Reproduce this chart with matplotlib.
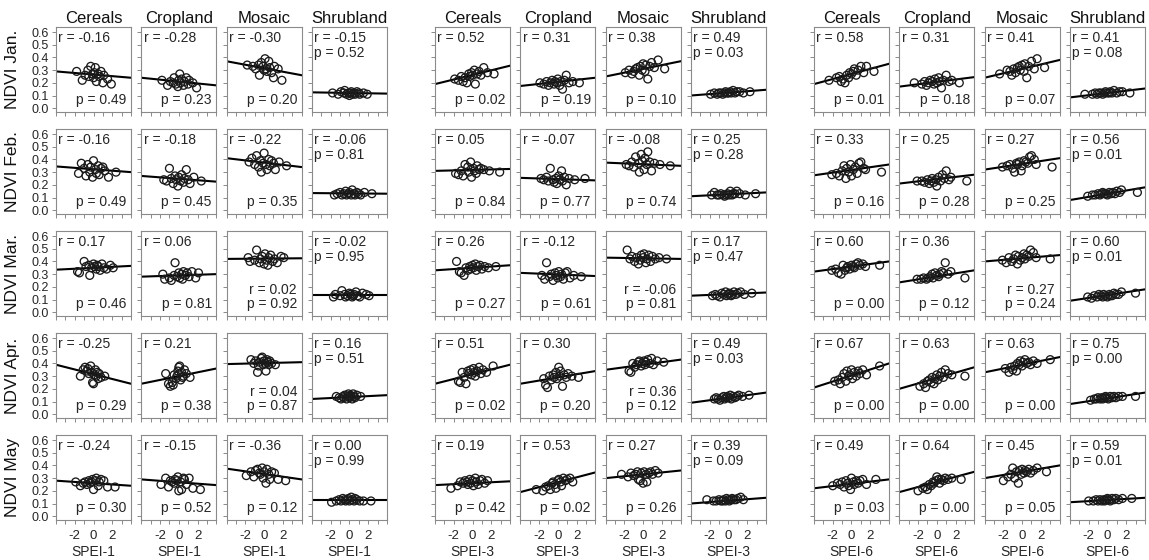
import numpy as np
import matplotlib
matplotlib.use("Agg")
import matplotlib.pyplot as plt

plt.rcParams['font.family'] = ['Liberation Sans', 'DejaVu Sans']
plt.rcParams['axes.unicode_minus'] = False

covers = ['Cereals', 'Cropland', 'Mosaic', 'Shrubland']
months = ['Jan.', 'Feb.', 'Mar.', 'Apr.', 'May']
scales = ['SPEI-1', 'SPEI-3', 'SPEI-6']

# SPEI value of each year, per month and time scale
spei1_jan = [-1.8, -1.2, -0.9, -0.6, -0.5, -0.3, -0.1, 0.0, 0.1, 0.2, 0.3, 0.5, 0.6, 0.8, 1.0, 1.1, 1.5, 1.9]
spei3_jan = [-1.9, -1.5, -1.2, -1.0, -0.8, -0.6, -0.4, -0.3, -0.1, 0.0, 0.2, 0.3, 0.5, 0.7, 0.9, 1.2, 1.6, 2.3]
spei6_jan = [-2.4, -1.6, -1.3, -1.1, -0.9, -0.7, -0.5, -0.3, -0.2, 0.0, 0.2, 0.3, 0.5, 0.7, 1.0, 1.3, 1.6, 2.4]
spei1_feb = [-1.6, -1.3, -1.0, -0.8, -0.6, -0.4, -0.3, -0.1, 0.0, 0.2, 0.3, 0.5, 0.6, 0.8, 1.0, 1.2, 1.6, 2.4]
spei3_feb = [-1.8, -1.5, -1.2, -1.0, -0.8, -0.5, -0.4, -0.2, -0.1, 0.1, 0.2, 0.4, 0.5, 0.7, 0.9, 1.2, 1.8, 2.9]
spei6_feb = [-2.1, -1.6, -1.3, -1.0, -0.8, -0.6, -0.5, -0.3, -0.1, 0.0, 0.2, 0.4, 0.6, 0.8, 1.0, 1.3, 1.5, 3.2]
spei1_mar = [-1.7, -1.5, -1.0, -0.8, -0.5, -0.4, -0.2, 0.0, 0.1, 0.3, 0.4, 0.5, 0.7, 0.9, 1.1, 1.4, 1.8, 2.1]
spei3_mar = [-1.7, -1.4, -1.2, -0.9, -0.7, -0.5, -0.3, -0.2, 0.0, 0.1, 0.3, 0.4, 0.6, 0.8, 1.0, 1.3, 1.7, 2.5]
spei6_mar = [-2.1, -1.7, -1.4, -1.1, -0.9, -0.7, -0.5, -0.4, -0.2, 0.0, 0.2, 0.3, 0.5, 0.7, 0.9, 1.2, 1.5, 3.0]
spei1_apr = [-1.4, -1.1, -0.9, -0.7, -0.6, -0.5, -0.3, -0.2, -0.1, 0.0, 0.1, 0.2, 0.3, 0.4, 0.5, 0.6, 0.8, 1.2]
spei3_apr = [-1.5, -1.3, -1.1, -0.9, -0.7, -0.5, -0.4, -0.2, -0.1, 0.1, 0.2, 0.3, 0.5, 0.7, 0.9, 1.1, 1.5, 2.2]
spei6_apr = [-1.8, -1.4, -1.2, -1.0, -0.8, -0.6, -0.5, -0.3, -0.2, 0.0, 0.1, 0.3, 0.5, 0.7, 0.9, 1.2, 1.6, 3.0]
spei1_may = [-1.9, -1.4, -1.1, -0.9, -0.7, -0.5, -0.4, -0.2, -0.1, 0.0, 0.2, 0.3, 0.5, 0.6, 0.8, 1.1, 1.5, 2.3]
spei3_may = [-2.3, -1.6, -1.3, -1.0, -0.8, -0.6, -0.5, -0.3, -0.2, 0.0, 0.1, 0.3, 0.4, 0.6, 0.8, 1.0, 1.3, 1.6]
spei6_may = [-2.0, -1.5, -1.2, -1.0, -0.8, -0.6, -0.4, -0.3, -0.1, 0.0, 0.2, 0.3, 0.5, 0.7, 0.9, 1.2, 1.6, 2.6]

# NDVI (x100), 12 panels per month: 4 covers for SPEI-1, SPEI-3, SPEI-6
ndvi_jan = [
    [29, 22, 26, 30, 25, 33, 27, 24, 28, 32, 21, 27, 25, 29, 20, 26, 23, 19],
    [22, 18, 21, 20, 24, 19, 17, 22, 27, 20, 23, 18, 21, 24, 19, 22, 20, 16],
    [34, 33, 31, 34, 26, 36, 33, 30, 39, 31, 29, 37, 32, 28, 24, 33, 31, 22],
    [12, 11, 13, 12, 14, 11, 12, 10, 12, 13, 11, 12, 11, 13, 12, 11, 12, 11],
    [23, 22, 25, 21, 24, 20, 27, 25, 28, 26, 30, 19, 27, 29, 26, 32, 28, 27],
    [20, 19, 21, 18, 20, 22, 19, 21, 20, 23, 18, 21, 15, 22, 26, 20, 21, 20],
    [28, 30, 27, 29, 31, 32, 26, 33, 30, 35, 29, 34, 23, 33, 36, 32, 38, 31],
    [11, 12, 11, 12, 12, 11, 12, 13, 12, 12, 13, 12, 14, 12, 13, 13, 12, 13],
    [22, 24, 25, 21, 23, 20, 26, 24, 28, 27, 29, 31, 26, 30, 33, 28, 33, 29],
    [20, 19, 21, 18, 20, 22, 21, 19, 23, 20, 24, 21, 16, 22, 26, 21, 22, 20],
    [27, 30, 29, 26, 31, 28, 32, 33, 30, 34, 29, 35, 24, 33, 37, 31, 39, 32],
    [11, 11, 12, 11, 12, 12, 11, 12, 13, 12, 12, 13, 12, 14, 12, 13, 13, 12],
]
ndvi_feb = [
    [29, 37, 33, 27, 36, 30, 34, 26, 39, 32, 29, 35, 28, 33, 34, 31, 26, 30],
    [24, 23, 33, 25, 21, 27, 24, 19, 26, 23, 28, 22, 25, 32, 24, 21, 26, 23],
    [38, 41, 36, 43, 34, 39, 30, 37, 45, 36, 32, 40, 35, 39, 37, 32, 38, 35],
    [12, 13, 14, 12, 13, 15, 12, 13, 14, 12, 16, 13, 12, 14, 13, 12, 14, 13],
    [29, 28, 31, 27, 36, 34, 30, 38, 26, 33, 31, 29, 35, 32, 33, 32, 31, 30],
    [25, 24, 26, 23, 33, 24, 22, 25, 21, 27, 24, 31, 23, 26, 20, 25, 24, 25],
    [36, 35, 38, 34, 42, 37, 30, 44, 39, 32, 41, 36, 46, 38, 31, 37, 36, 35],
    [12, 14, 12, 12, 13, 12, 11, 12, 13, 12, 15, 12, 13, 13, 15, 13, 12, 13],
    [28, 29, 27, 31, 35, 25, 33, 30, 36, 27, 32, 34, 29, 37, 38, 33, 32, 30],
    [23, 23, 22, 24, 21, 23, 25, 22, 24, 19, 26, 23, 28, 25, 31, 24, 26, 23],
    [34, 35, 36, 33, 30, 37, 36, 38, 31, 35, 39, 38, 37, 42, 43, 40, 36, 34],
    [11, 12, 12, 13, 12, 13, 14, 13, 13, 12, 14, 13, 14, 13, 15, 14, 16, 14],
]
ndvi_mar = [
    [32, 31, 40, 36, 37, 29, 35, 38, 36, 34, 37, 36, 33, 38, 35, 34, 37, 35],
    [30, 26, 27, 25, 29, 39, 28, 31, 27, 30, 26, 32, 29, 31, 28, 32, 27, 31],
    [43, 40, 41, 49, 39, 42, 44, 38, 46, 41, 37, 43, 45, 40, 42, 39, 44, 43],
    [12, 14, 13, 17, 14, 12, 13, 15, 14, 12, 13, 14, 16, 13, 12, 15, 14, 13],
    [40, 32, 31, 29, 35, 33, 36, 34, 37, 35, 38, 33, 36, 37, 34, 36, 35, 36],
    [29, 26, 39, 28, 30, 25, 31, 29, 27, 32, 28, 30, 26, 31, 32, 27, 29, 28],
    [49, 42, 44, 40, 43, 38, 41, 45, 43, 46, 39, 42, 45, 40, 44, 42, 43, 42],
    [13, 14, 13, 12, 15, 14, 16, 13, 14, 15, 13, 14, 16, 14, 15, 16, 14, 15],
    [33, 34, 31, 30, 37, 33, 35, 36, 34, 37, 36, 35, 38, 39, 37, 38, 36, 37],
    [26, 26, 27, 26, 27, 28, 30, 27, 31, 29, 28, 30, 32, 31, 39, 30, 32, 27],
    [41, 39, 43, 40, 42, 45, 38, 44, 41, 43, 46, 42, 45, 44, 49, 47, 43, 42],
    [12, 11, 13, 12, 14, 13, 12, 14, 13, 12, 14, 13, 13, 15, 14, 14, 16, 15],
]
ndvi_apr = [
    [30, 35, 37, 34, 36, 32, 38, 33, 25, 24, 31, 35, 30, 33, 28, 32, 29, 30],
    [32, 24, 22, 25, 23, 31, 28, 30, 34, 37, 38, 27, 33, 29, 30, 35, 32, 29],
    [43, 40, 42, 33, 38, 41, 44, 45, 39, 42, 40, 34, 43, 41, 39, 42, 40, 39],
    [14, 13, 12, 14, 13, 15, 12, 14, 16, 13, 15, 14, 12, 16, 14, 13, 15, 14],
    [26, 25, 33, 29, 24, 34, 32, 35, 31, 36, 33, 30, 34, 37, 32, 35, 33, 38],
    [28, 23, 21, 30, 27, 31, 29, 33, 28, 37, 30, 34, 22, 31, 29, 32, 30, 29],
    [34, 33, 40, 37, 39, 41, 42, 38, 40, 42, 39, 41, 43, 40, 44, 39, 42, 41],
    [12, 13, 12, 11, 13, 14, 12, 13, 14, 13, 15, 12, 14, 13, 14, 15, 14, 15],
    [26, 27, 24, 29, 32, 26, 34, 30, 31, 35, 28, 33, 30, 34, 32, 35, 31, 38],
    [22, 24, 21, 26, 27, 25, 29, 24, 28, 31, 27, 30, 33, 29, 35, 32, 31, 30],
    [36, 33, 37, 35, 38, 34, 40, 39, 42, 38, 41, 43, 40, 41, 39, 42, 40, 43],
    [11, 12, 12, 13, 12, 13, 12, 13, 14, 13, 12, 14, 13, 14, 13, 14, 14, 14],
]
ndvi_may = [
    [27, 24, 26, 27, 25, 28, 26, 27, 29, 21, 28, 30, 24, 27, 29, 28, 23, 23],
    [25, 30, 23, 28, 27, 26, 29, 28, 31, 20, 27, 21, 30, 29, 25, 30, 22, 21],
    [32, 35, 31, 36, 37, 34, 33, 38, 30, 35, 26, 37, 33, 29, 35, 34, 29, 28],
    [11, 12, 13, 12, 14, 13, 12, 13, 14, 12, 15, 13, 12, 14, 13, 12, 12, 12],
    [22, 24, 27, 26, 28, 27, 25, 29, 26, 28, 24, 30, 27, 25, 28, 29, 26, 28],
    [21, 20, 23, 24, 21, 26, 27, 25, 22, 28, 29, 27, 24, 30, 28, 29, 30, 27],
    [33, 31, 34, 32, 33, 35, 29, 28, 34, 26, 35, 33, 27, 34, 35, 33, 36, 34],
    [13, 12, 12, 13, 12, 12, 13, 12, 14, 13, 12, 13, 14, 13, 13, 14, 15, 13],
    [24, 26, 25, 27, 23, 28, 26, 24, 21, 30, 27, 25, 28, 26, 28, 29, 25, 29],
    [20, 22, 23, 21, 25, 24, 27, 26, 28, 31, 29, 26, 29, 28, 30, 29, 30, 29],
    [28, 31, 33, 38, 30, 35, 26, 36, 33, 37, 34, 36, 35, 37, 34, 36, 38, 35],
    [12, 12, 13, 12, 13, 12, 13, 12, 13, 14, 13, 12, 14, 13, 14, 13, 14, 14],
]

# fitted NDVI at SPEI = -4 and SPEI = 4
fit_lo_jan = [0.29, 0.24, 0.37, 0.125, 0.19, 0.175, 0.25, 0.10, 0.19, 0.17, 0.24, 0.085]
fit_hi_jan = [0.24, 0.18, 0.26, 0.115, 0.335, 0.24, 0.37, 0.145, 0.35, 0.245, 0.38, 0.155]
fit_lo_feb = [0.345, 0.27, 0.41, 0.135, 0.31, 0.255, 0.375, 0.11, 0.275, 0.21, 0.32, 0.08]
fit_hi_feb = [0.30, 0.225, 0.34, 0.13, 0.325, 0.235, 0.35, 0.14, 0.36, 0.28, 0.41, 0.18]
fit_lo_mar = [0.335, 0.28, 0.42, 0.135, 0.33, 0.31, 0.43, 0.13, 0.32, 0.235, 0.40, 0.09]
fit_hi_mar = [0.365, 0.30, 0.425, 0.135, 0.37, 0.285, 0.42, 0.155, 0.40, 0.33, 0.45, 0.18]
fit_lo_apr = [0.39, 0.24, 0.395, 0.12, 0.24, 0.24, 0.35, 0.09, 0.21, 0.20, 0.33, 0.08]
fit_hi_apr = [0.24, 0.36, 0.41, 0.15, 0.39, 0.34, 0.43, 0.17, 0.40, 0.37, 0.45, 0.17]
fit_lo_may = [0.28, 0.29, 0.375, 0.125, 0.245, 0.19, 0.30, 0.10, 0.22, 0.19, 0.30, 0.11]
fit_hi_may = [0.24, 0.245, 0.29, 0.125, 0.275, 0.345, 0.36, 0.145, 0.29, 0.35, 0.40, 0.145]

r_jan = ['-0.16', '-0.28', '-0.30', '-0.15', '0.52', '0.31', '0.38', '0.49', '0.58', '0.31', '0.41', '0.41']
p_jan = ['0.49', '0.23', '0.20', '0.52', '0.02', '0.19', '0.10', '0.03', '0.01', '0.18', '0.07', '0.08']
r_feb = ['-0.16', '-0.18', '-0.22', '-0.06', '0.05', '-0.07', '-0.08', '0.25', '0.33', '0.25', '0.27', '0.56']
p_feb = ['0.49', '0.45', '0.35', '0.81', '0.84', '0.77', '0.74', '0.28', '0.16', '0.28', '0.25', '0.01']
r_mar = ['0.17', '0.06', '0.02', '-0.02', '0.26', '-0.12', '-0.06', '0.17', '0.60', '0.36', '0.27', '0.60']
p_mar = ['0.46', '0.81', '0.92', '0.95', '0.27', '0.61', '0.81', '0.47', '0.00', '0.12', '0.24', '0.01']
r_apr = ['-0.25', '0.21', '0.04', '0.16', '0.51', '0.30', '0.36', '0.49', '0.67', '0.63', '0.63', '0.75']
p_apr = ['0.29', '0.38', '0.87', '0.51', '0.02', '0.20', '0.12', '0.03', '0.00', '0.00', '0.00', '0.00']
r_may = ['-0.24', '-0.15', '-0.36', '0.00', '0.19', '0.53', '0.27', '0.39', '0.49', '0.64', '0.45', '0.59']
p_may = ['0.30', '0.52', '0.12', '0.99', '0.42', '0.02', '0.26', '0.09', '0.03', '0.00', '0.05', '0.01']

rows = [
    ([spei1_jan, spei3_jan, spei6_jan], ndvi_jan, fit_lo_jan, fit_hi_jan, r_jan, p_jan),
    ([spei1_feb, spei3_feb, spei6_feb], ndvi_feb, fit_lo_feb, fit_hi_feb, r_feb, p_feb),
    ([spei1_mar, spei3_mar, spei6_mar], ndvi_mar, fit_lo_mar, fit_hi_mar, r_mar, p_mar),
    ([spei1_apr, spei3_apr, spei6_apr], ndvi_apr, fit_lo_apr, fit_hi_apr, r_apr, p_apr),
    ([spei1_may, spei3_may, spei6_may], ndvi_may, fit_lo_may, fit_hi_may, r_may, p_may),
]
# panels (row, panel index) where both r and p sit bottom right
both_bottom = {(2, 2), (2, 6), (2, 10), (3, 2), (3, 6)}

W, H = 1149, 560
fig = plt.figure(figsize=(W / 100, H / 100), dpi=100)
gcol = '#8a8a8a'
tcol = '#262626'
group_x0 = [56, 435, 814]
pw, ph = 75, 85

for i, (xs, ndvi, flo, fhi, rr, pp) in enumerate(rows):
    top = 27 + 102 * i
    for g in range(3):
        for c in range(4):
            k = g * 4 + c
            left = group_x0[g] + 85.3 * c
            ax = fig.add_axes([left / W, 1 - (top + ph) / H, pw / W, ph / H])
            x = np.array(xs[g])
            y = np.array(ndvi[k]) / 100.0
            ax.plot([-4, 4], [flo[k], fhi[k]], color='black', lw=1.5, zorder=2)
            ax.scatter(x, y, s=32, facecolors='none', edgecolors='#1a1a1a',
                       linewidths=0.95, zorder=3)
            ax.set_xlim(-4, 4)
            ax.set_ylim(-0.03, 0.64)
            ax.set_xticks(np.arange(-4, 5, 1))
            ax.set_yticks(np.arange(0, 0.61, 0.1))
            for sp in ax.spines.values():
                sp.set_color(gcol)
                sp.set_linewidth(0.8)
            ax.tick_params(direction='out', length=3, width=0.7, color=gcol,
                           labelsize=9, labelcolor=tcol)
            ax.tick_params(axis='y', pad=2)
            ax.tick_params(axis='x', pad=4)
            if k == 0:
                ax.set_yticklabels(['%.1f' % v for v in np.arange(0, 0.61, 0.1)])
            else:
                ax.set_yticklabels([])
            if i == 4:
                ax.set_xticklabels(['', '', '-2', '', '0', '', '2', '', ''], fontsize=9.5)
                ax.set_xlabel(scales[g], fontsize=10, labelpad=2, color=tcol)
            else:
                ax.set_xticklabels([])
            if i == 0:
                ax.set_title(covers[c], fontsize=12, pad=3, color='#111111')

            rt = 'r = ' + rr[k]
            pt = 'p = ' + pp[k]
            if c == 3:
                ax.text(0.03, 0.87, rt, transform=ax.transAxes, fontsize=10,
                        ha='left', va='center', color=tcol)
                ax.text(0.03, 0.69, pt, transform=ax.transAxes, fontsize=10,
                        ha='left', va='center', color=tcol)
            elif (i, k) in both_bottom:
                ax.text(0.94, 0.31, rt, transform=ax.transAxes, fontsize=10,
                        ha='right', va='center', color=tcol)
                ax.text(0.94, 0.14, pt, transform=ax.transAxes, fontsize=10,
                        ha='right', va='center', color=tcol)
            else:
                ax.text(0.03, 0.87, rt, transform=ax.transAxes, fontsize=10,
                        ha='left', va='center', color=tcol)
                ax.text(0.94, 0.14, pt, transform=ax.transAxes, fontsize=10,
                        ha='right', va='center', color=tcol)

    fig.text(13 / W, 1 - (top + ph / 2) / H, 'NDVI ' + months[i], rotation=90,
             ha='center', va='center', fontsize=12.5, color='#111111')

fig.savefig('out.png', dpi=100)
